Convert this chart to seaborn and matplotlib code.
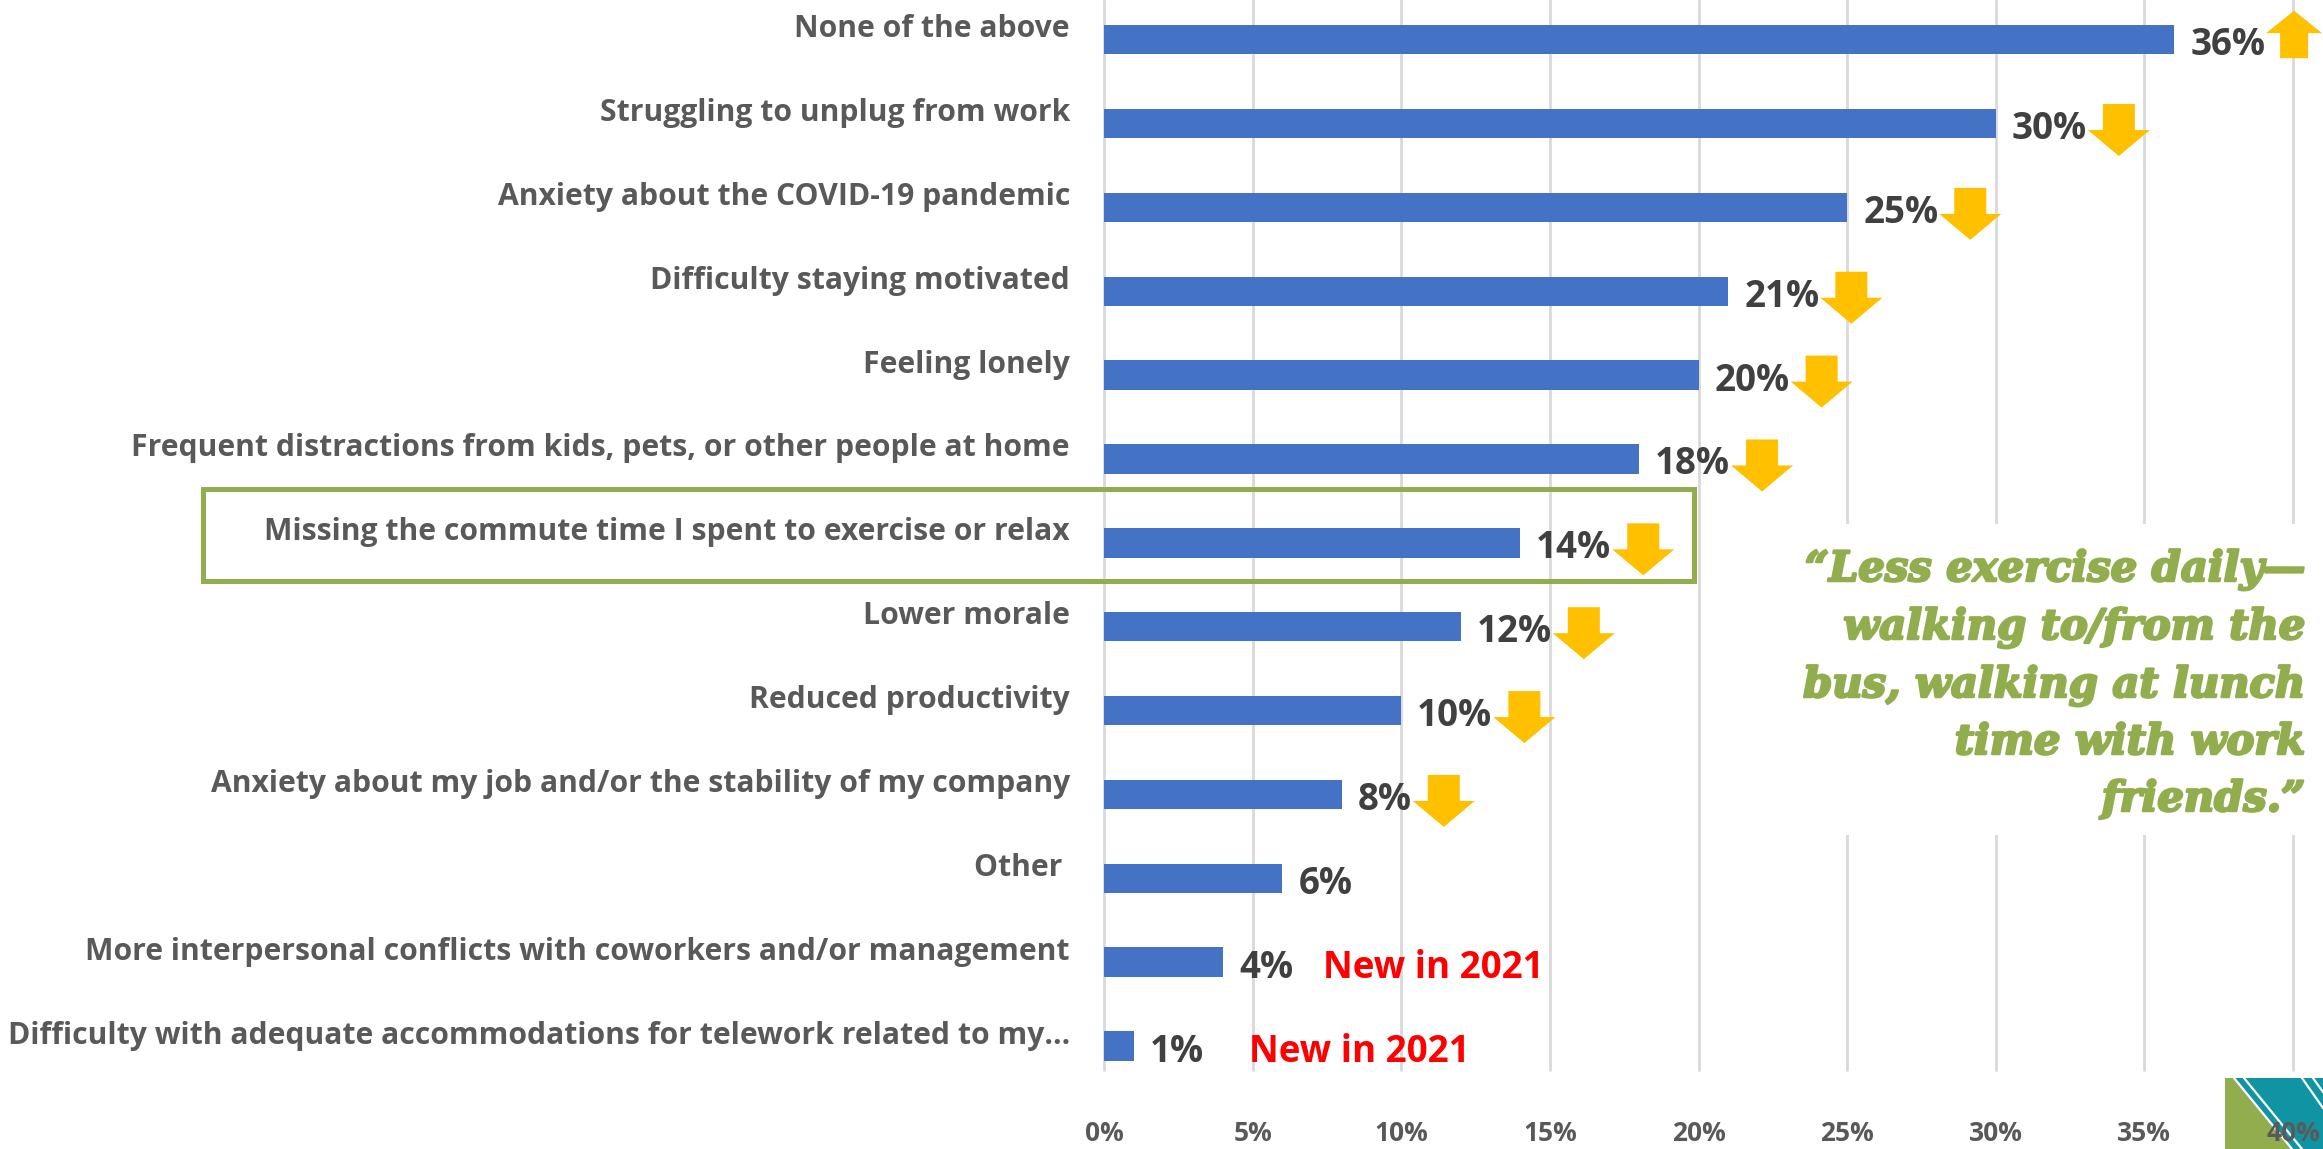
import matplotlib
matplotlib.use("Agg")
import matplotlib.pyplot as plt
import matplotlib.patheffects as pe
import pandas as pd
import seaborn as sns
from matplotlib.patches import Rectangle, Polygon
from matplotlib.lines import Line2D
from matplotlib.transforms import ScaledTranslation, IdentityTransform

# ---- data -------------------------------------------------------------
categories = [
    "None of the above",
    "Struggling to unplug from work",
    "Anxiety about the COVID-19 pandemic",
    "Difficulty staying motivated",
    "Feeling lonely",
    "Frequent distractions from kids, pets, or other people at home",
    "Missing the commute time I spent to exercise or relax",
    "Lower morale",
    "Reduced productivity",
    "Anxiety about my job and/or the stability of my company",
    "Other ",
    "More interpersonal conflicts with coworkers and/or management",
    "Difficulty with adequate accommodations for telework related to my\u2026",
]
values = [36, 30, 25, 21, 20, 18, 14, 12, 10, 8, 6, 4, 1]
trend = ["up", "down", "down", "down", "down", "down", "down", "down",
         "down", "down", None, None, None]
new_items = [11, 12]
new_label = "New in 2021"
new_label_x = [7.37, 4.88]
x_ticks = [0, 5, 10, 15, 20, 25, 30, 35, 40]
quote_lines = [
    "\u201cLess exercise daily\u2014",
    "walking to/from the",
    "bus, walking at lunch",
    "time with work",
    "friends.\u201d",
]

# ---- style ------------------------------------------------------------
BLUE = "#4472C4"
GOLD = "#FFC000"
GREEN = "#92AD4E"
TEAL = "#1094A3"
GRID = "#D9D9D9"
LABEL_GRAY = "#595959"
VALUE_GRAY = "#404040"

sns.set_theme(style="white")
plt.rcParams["font.family"] = ["Open Sans", "DejaVu Sans"]

W, H, DPI = 2323, 1149, 100
fig = plt.figure(figsize=(W / DPI, H / DPI), dpi=DPI)
fig.patch.set_facecolor("white")


def fx(px):
    return px / W


def fy(py):
    return 1 - py / H


ax = fig.add_axes([fx(1104), fy(1070), fx(2293) - fx(1104), fy(0) - fy(1070)])
ax.set_facecolor("none")

df = pd.DataFrame({"item": categories, "pct": values})
sns.barplot(data=df, x="pct", y="item", orient="h", color=BLUE,
            saturation=1, width=0.35, errorbar=None, edgecolor="none",
            linewidth=0, ax=ax)

ax.set_xlim(0, 40)
ax.set_ylim(12.286, -0.473)
ax.set_xticks(x_ticks)
ax.set_xticklabels([f"{t}%" for t in x_ticks])
ax.set_xlabel("")
ax.set_ylabel("")
ax.grid(axis="x", color=GRID, linewidth=2)
ax.grid(axis="y", visible=False)
for line in ax.get_xgridlines():
    line.set_clip_on(False)
ax.set_axisbelow(True)
for s in ax.spines.values():
    s.set_visible(False)
ax.tick_params(axis="both", length=0)
ax.tick_params(axis="y", pad=24.5, labelsize=21.7, labelcolor=LABEL_GRAY)
ax.tick_params(axis="x", pad=36, labelsize=19, labelcolor=LABEL_GRAY)
for lab in ax.get_yticklabels():
    lab.set_fontweight("bold")
    lab.set_transform(lab.get_transform() +
                      ScaledTranslation(0, 0.14, fig.dpi_scale_trans))
for lab in ax.get_xticklabels():
    lab.set_fontweight("bold")

# value labels
shift = ScaledTranslation(0.16, -0.155, fig.dpi_scale_trans)
value_texts = []
for i, v in enumerate(values):
    t = ax.text(v, i, f"{v}%", transform=ax.transData + shift,
                ha="left", va="baseline", fontsize=26.5, fontweight="bold",
                color=VALUE_GRAY)
    value_texts.append(t)

for row, xpos in zip(new_items, new_label_x):
    ax.text(xpos, row, new_label,
            transform=ax.transData + ScaledTranslation(0, -0.155, fig.dpi_scale_trans),
            ha="left", va="baseline", fontsize=26.5, fontweight="bold",
            color="#FF0000")

# trend arrows, placed right after each value label
renderer = fig.canvas.get_renderer()
for i, (t, d) in enumerate(zip(value_texts, trend)):
    if d is None:
        continue
    bb = t.get_window_extent(renderer)
    x0 = bb.x1 + 1
    cy = ax.transData.transform((0, i))[1]
    if d == "down":
        w, sw = 62, 32
        top, neck, tip = cy + 19.5, cy - 6.5, cy - 32.5
        m = (w - sw) / 2
        pts = [(x0 + m, top), (x0 + m + sw, top), (x0 + m + sw, neck),
               (x0 + w, neck), (x0 + w / 2, tip), (x0, neck), (x0 + m, neck)]
    else:
        w, sw = 56, 28
        bottom, neck, tip = cy - 18.5, cy + 6.5, cy + 29
        m = (w - sw) / 2
        pts = [(x0 + m, bottom), (x0 + m + sw, bottom), (x0 + m + sw, neck),
               (x0 + w, neck), (x0 + w / 2, tip), (x0, neck), (x0 + m, neck)]
    fig.add_artist(Polygon(pts, closed=True, facecolor=GOLD, edgecolor="none",
                           transform=IdentityTransform(), zorder=3))

# highlight frame around the commute row
fig.add_artist(Rectangle((fx(203), fy(581)), fx(1694) - fx(203),
                         fy(489) - fy(581), transform=fig.transFigure,
                         fill=False, edgecolor=GREEN, linewidth=3.6, zorder=3))

# quote panel
fig.add_artist(Rectangle((fx(1760), fy(835)), 1 - fx(1760), fy(524) - fy(835),
                         transform=fig.transFigure, facecolor="white",
                         edgecolor="none", zorder=2))
baselines = [581, 639, 697, 754, 811]
heavy = [pe.withStroke(linewidth=1.8, foreground=GREEN)]
for line, yb in zip(quote_lines, baselines):
    fig.text(fx(2305), fy(yb), line, ha="right", va="baseline",
             fontsize=30, fontweight="bold", fontstyle="italic",
             family=["DejaVu Serif"], color=GREEN, zorder=4,
             path_effects=heavy)

# corner logo
fig.add_artist(Rectangle((fx(2225), 0), 1 - fx(2225), fy(1078),
                         transform=fig.transFigure, facecolor=TEAL,
                         edgecolor="none", zorder=-1))
fig.add_artist(Polygon([(fx(2225), fy(1078)), (fx(2234), fy(1078)),
                        (fx(2292), fy(1149)), (fx(2225), fy(1149))],
                       closed=True, transform=fig.transFigure,
                       facecolor=GREEN, edgecolor="none", zorder=-1))
for (xa, ya), (xb, yb) in [((2234, 1078), (2292, 1149)),
                           ((2244, 1078), (2302, 1149)),
                           ((2302, 1078), (2323, 1108)),
                           ((2313, 1078), (2323, 1092))]:
    fig.add_artist(Line2D([fx(xa), fx(xb)], [fy(ya), fy(yb)],
                          transform=fig.transFigure, color="white",
                          linewidth=1.6, zorder=-1))

fig.savefig("out.png", dpi=DPI, facecolor="white")
